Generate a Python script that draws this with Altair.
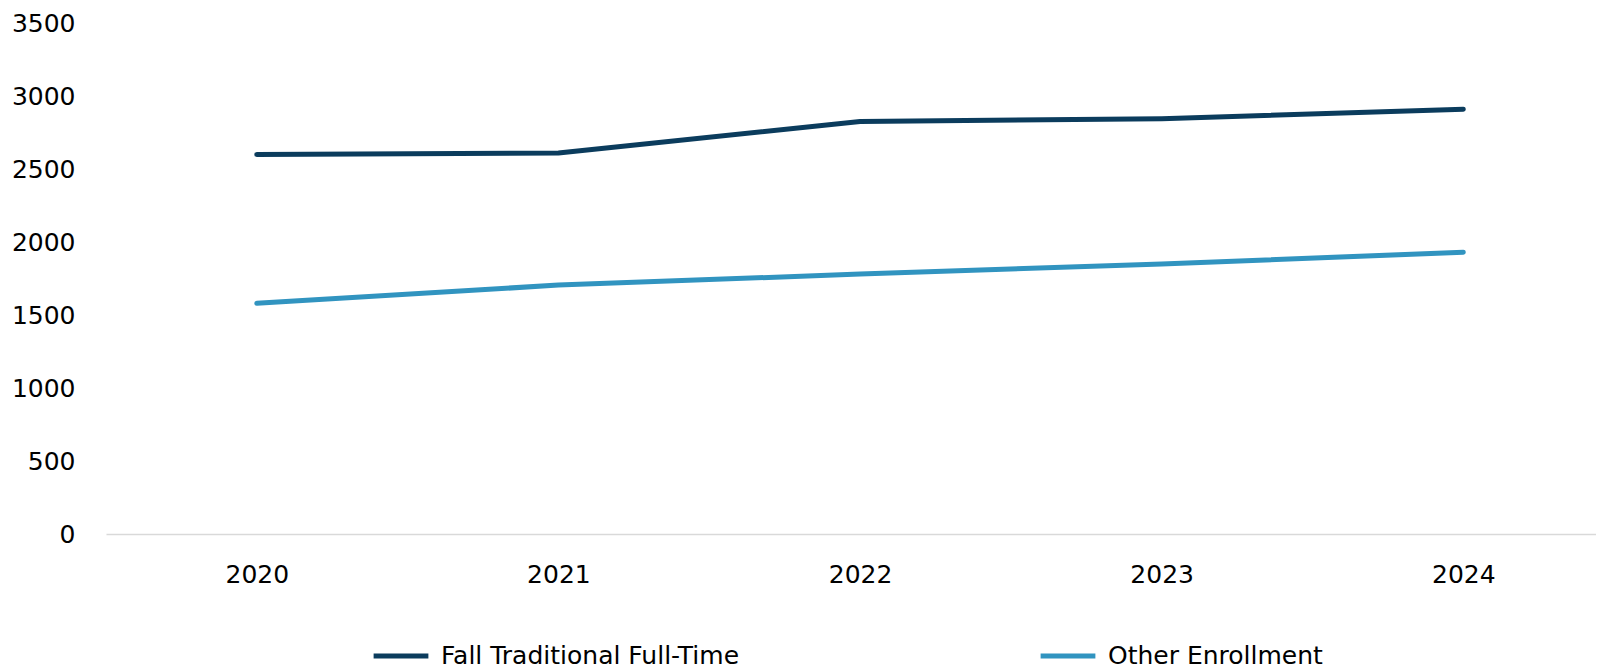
import altair as alt
import pandas as pd

years = [2020, 2021, 2022, 2023, 2024]
fall_traditional = [2600, 2610, 2825, 2845, 2910]
other_enrollment = [1580, 1705, 1780, 1850, 1930]
series_names = ["Fall Traditional Full-Time", "Other Enrollment"]
series_colors = ["#0b3c5d", "#3194c0"]
y_ticks = [0, 500, 1000, 1500, 2000, 2500, 3000, 3500]

rows = []
for name, vals in zip(series_names, [fall_traditional, other_enrollment]):
    for yr, v in zip(years, vals):
        rows.append({"Year": yr, "Value": v, "Series": name})
df = pd.DataFrame(rows)

FONT = "DejaVu Sans"

chart = (
    alt.Chart(df)
    .mark_line(strokeWidth=5, strokeCap="round", strokeJoin="round")
    .encode(
        x=alt.X(
            "Year:Q",
            scale=alt.Scale(domain=[2019.5, 2024.44], nice=False, zero=False),
            axis=alt.Axis(
                values=years, format="d", title=None, ticks=False, grid=False,
                domainColor="#d9d9d9", domainWidth=1.5, labelPadding=28,
                labelFontSize=25, labelFont=FONT, labelColor="#000000",
                labelFlush=False,
            ),
        ),
        y=alt.Y(
            "Value:Q",
            scale=alt.Scale(domain=[0, 3500], nice=False),
            axis=alt.Axis(
                values=y_ticks, format="d", title=None, ticks=False, grid=False,
                domain=False, labelPadding=31, labelFontSize=25, labelFont=FONT,
                labelColor="#000000", labelFlush=False,
            ),
        ),
        color=alt.Color(
            "Series:N",
            scale=alt.Scale(domain=series_names, range=series_colors),
            legend=alt.Legend(
                title=None, orient="none", legendX=265, legendY=603,
                direction="horizontal", symbolType="stroke", symbolSize=3000,
                symbolStrokeWidth=5, labelFontSize=25, labelFont=FONT,
                labelColor="#000000", columnPadding=290, labelOffset=10,
                labelLimit=600,
            ),
        ),
    )
    .properties(
        width=1490, height=511,
        padding={"left": 3, "top": 3, "right": 0, "bottom": 0},
    )
    .configure_view(stroke=None)
)

chart.save("out.html", embed_options={"renderer": "svg", "actions": False})
